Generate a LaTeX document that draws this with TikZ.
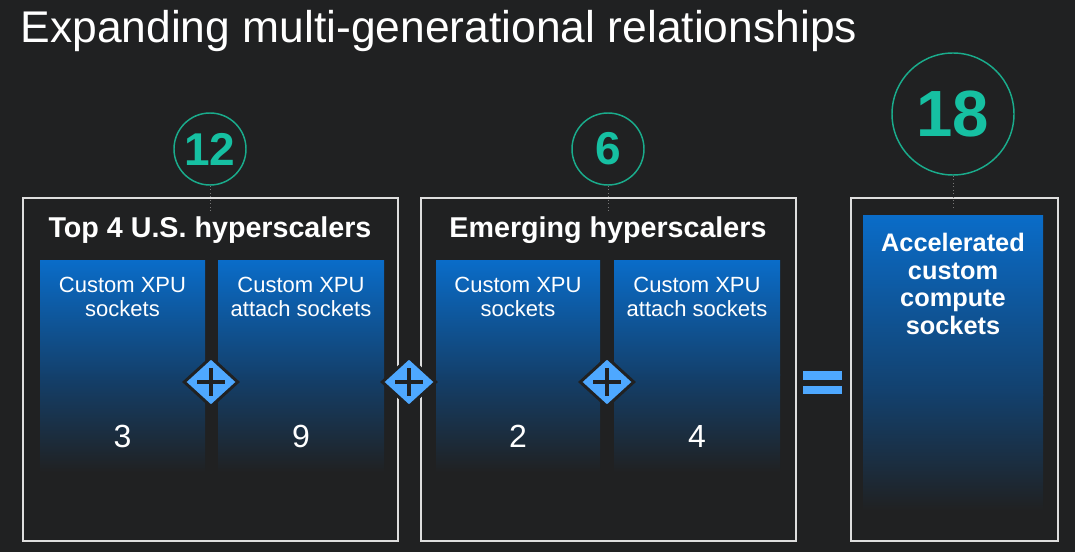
\documentclass[tikz,border=0pt]{standalone}
\usepackage{fontspec}
\setmainfont{Liberation Sans}
\usetikzlibrary{shapes.geometric}

\definecolor{bgdark}{RGB}{32,33,34}
\definecolor{frameline}{RGB}{222,222,222}
\definecolor{tealnum}{RGB}{22,192,162}
\definecolor{tealring}{RGB}{26,172,140}
\definecolor{plusblue}{RGB}{78,168,255}
\definecolor{paneltop}{RGB}{10,108,200}
\definecolor{panelmid}{RGB}{19,64,108}

\tikzset{every picture/.style={line width=0.75pt}}
\tikzset{
  framebox/.style={draw=frameline, line width=1.5pt},
  panelup/.style={top color=paneltop, bottom color=panelmid},
  paneldown/.style={top color=panelmid, bottom color=bgdark},
  ring/.style={circle, draw=tealring, line width=1.1pt, inner sep=0pt, text=tealnum, font=\bfseries\fontsize{34.5}{40}\selectfont},
  dotline/.style={draw={rgb,255:red,120;green,120;blue,120}, dotted, line width=0.6pt},
  plusdiamond/.style={diamond, fill=plusblue, draw=bgdark, line width=2.2pt, inner sep=0pt, minimum width=41pt, minimum height=37.5pt},
  plusbar/.style={draw=bgdark, line width=3pt},
  headtext/.style={text=white, inner sep=0pt, anchor=base, font=\bfseries\fontsize{21.5}{25}\selectfont},
  celltext/.style={text=white, inner sep=0pt, anchor=north, align=center, font=\fontsize{16.5}{18}\selectfont},
  numtext/.style={text=white, inner sep=0pt, anchor=base, font=\fontsize{24}{28}\selectfont}
}

\begin{document}
\begin{tikzpicture}[x=0.75pt,y=0.75pt,yscale=-1,xscale=1]
%background, fixes the size of the diagram
\fill [bgdark] (0,0) rectangle (1075,552);
\useasboundingbox (0,0) rectangle (1075,552);

% Text Node
\draw (20,43) node [anchor=base west][inner sep=0pt] [text=white, font=\fontsize{33.3}{38}\selectfont] {Expanding multi-generational relationships};

%Shape: Rectangle [id:top4]
\draw [framebox] (23,198) rectangle (398,541);
%Shape: Rectangle [id:emerg]
\draw [framebox] (421,198) rectangle (796,541);
%Shape: Rectangle [id:accel]
\draw [framebox] (851,198) rectangle (1058,541);

%Shape: gradient panels (upper and lower half)
\foreach \xa/\xb in {40/205,218/384,436/600,614/780}{
  \shade [panelup] (\xa,261) rectangle (\xb,376);
  \shade [paneldown] (\xa,375) rectangle (\xb,472);
}
\shade [panelup] (863,216) rectangle (1043,395);
\shade [paneldown] (863,394) rectangle (1043,510);

%Circles with totals
\node [ring, minimum size=54pt] (n12) at (210,149) {12};
\node [ring, minimum size=54pt] (n6) at (608,149) {6};
\node [ring, minimum size=91.5pt, font=\bfseries\fontsize{49}{56}\selectfont] (n18) at (953,114) {18};
\coordinate (t12) at (210,213);
\coordinate (t6) at (608,213);
\coordinate (t18) at (953,207);
\draw [dotline] (n12.south) -- (t12);
\draw [dotline] (n6.south) -- (t6);
\draw [dotline] (n18.south) -- (t18);

% Text Node
\node [headtext] (h1) at (210,238) {Top 4 U.S. hyperscalers};
% Text Node
\node [headtext] (h2) at (608,238) {Emerging hyperscalers};

% Text Node
\node [celltext] (c1) at (122.5,277) {Custom XPU\\sockets};
\node [celltext] (c2) at (301,277) {Custom XPU\\attach sockets};
\node [celltext] (c3) at (518,277) {Custom XPU\\sockets};
\node [celltext] (c4) at (697,277) {Custom XPU\\attach sockets};

% Text Node
\node [numtext] (v1) at (122.5,447) {3};
\node [numtext] (v2) at (301,447) {9};
\node [numtext] (v3) at (518,447) {2};
\node [numtext] (v4) at (697,447) {4};

% Text Node
\node [celltext, font=\bfseries\fontsize{19}{20.6}\selectfont] (c5) at (953,233) {Accelerated\\custom\\compute\\sockets};

%Plus signs
\foreach \n/\x in {pl1/211,pl2/409,pl3/607}{
  \node [plusdiamond] (\n) at (\x,382) {};
  \draw [plusbar] ([xshift=-10.5pt]\n.center) -- ([xshift=10.5pt]\n.center);
  \draw [plusbar] ([yshift=-10.5pt]\n.center) -- ([yshift=10.5pt]\n.center);
}

%Equals sign
\fill [plusblue] (803,371) rectangle (842,380);
\fill [plusblue] (803,386) rectangle (842,394);

\end{tikzpicture}
\end{document}
